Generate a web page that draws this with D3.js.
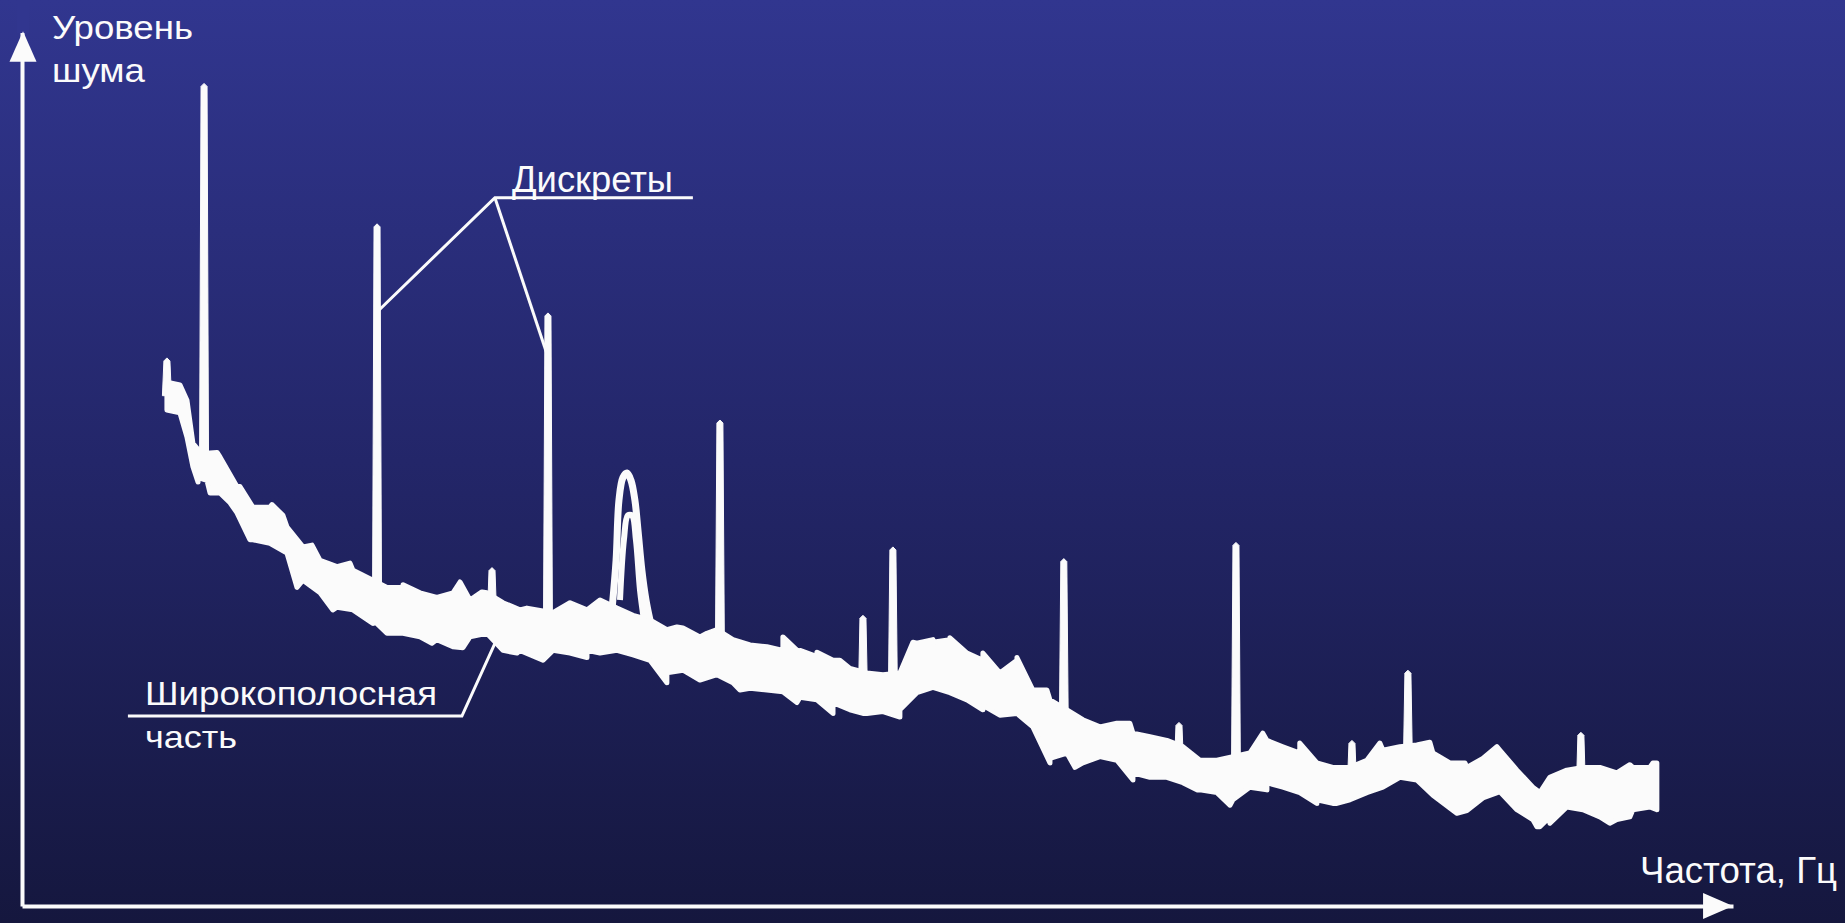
<!DOCTYPE html>
<html><head><meta charset="utf-8">
<script src="https://cdn.jsdelivr.net/npm/d3@7"></script>
<style>html,body{margin:0;padding:0;overflow:hidden;background:#161840}svg{display:block}</style>
</head><body>
<svg id="chart" width="1845" height="923"></svg>
<script>
// ---- data (frequency in arbitrary units 0..1000, level in arbitrary units 0..100) ----
const freq = [84.7,92.3,96.4,99.9,102.9,108.1,115.7,125.6,135.0,144.9,154.9,164.2,174.2,184.1,193.4,205.1,213.3,222.7,232.6,242.5,251.9,261.8,271.7,281.1,291.0,310.3,320.3,330.2,337.8,347.7,357.1,367.0,376.9,386.3,396.2,406.2,415.5,425.5,435.4,444.7,454.7,464.6,474.0,483.9,493.8,503.2,513.1,523.0,532.4,542.3,552.3,561.6,571.5,581.5,590.8,600.8,610.7,620.0,630.0,639.9,649.3,659.2,669.1,678.5,688.4,698.4,707.7,717.6,727.6,736.9,746.8,756.8,766.1,776.1,786.0,795.4,805.3,815.2,824.6,834.5,844.5,853.8,863.8,873.7,883.0,887.1,892.9,902.9,912.3,922.2,932.1,941.5,951.4,955.5];
const upper = [58.2,57.9,56.2,51.4,50.7,50.3,49.9,46.6,44.3,44.3,42.1,39.9,38.4,37.7,37.3,36.2,35.4,35.4,34.8,34.3,34.8,34.0,34.8,33.7,32.9,32.6,33.7,32.9,34.0,33.1,32.3,31.8,30.7,30.9,29.9,30.7,29.6,29.0,28.8,28.4,28.1,27.7,27.3,26.4,25.9,25.7,25.9,29.2,29.6,29.6,28.1,27.3,25.9,27.3,24.0,22.9,21.8,20.7,19.9,20.3,19.2,18.8,18.4,17.7,16.2,16.2,16.6,17.0,18.4,17.7,17.0,15.9,15.4,15.4,16.2,17.3,17.7,17.9,17.0,15.9,15.4,16.4,17.3,15.1,13.2,12.6,14.3,15.1,15.4,15.4,14.8,15.4,15.4,15.9];
const lower = [55.1,54.8,52.1,48.8,47.6,47.3,45.9,43.7,40.7,40.3,39.2,36.2,34.8,33.2,32.9,31.8,30.3,30.3,29.9,29.6,28.8,29.9,30.3,28.4,28.4,28.4,28.1,28.4,28.1,28.4,27.9,27.3,25.9,26.2,25.1,25.7,24.8,24.2,24.0,23.8,23.2,22.9,22.6,21.8,21.4,21.6,21.8,23.7,24.3,23.7,22.9,22.3,21.2,21.4,19.9,16.4,17.0,15.9,16.6,16.2,14.8,14.3,14.3,13.7,12.9,12.6,11.8,13.2,13.7,13.2,12.6,11.8,11.4,11.8,12.6,13.2,14.3,14.0,12.3,10.9,10.6,12.0,12.7,10.7,9.6,8.8,9.9,11.0,10.7,9.9,9.6,10.7,11.0,10.7];

// noise excursions above / below the broadband band
const noiseUpF = [114.0,127.4,146.1,152.5,169.5,191.7,222.7,256.0,268.8,295.1,320.3,330.2,382.8,400.3,444.7,454.7,464.6,478.0,520.7,532.4,542.3,561.6,581.5,599.0,647.5,725.2,746.8,793.6,822.8,843.3,862.0,939.7,953.2];
const noiseUpL = [50.4,46.6,44.6,43.4,40.1,38.1,35.7,36.0,34.9,33.1,33.7,32.9,31.0,30.3,29.9,28.4,28.2,27.3,29.3,29.3,29.8,28.1,27.6,24.0,20.3,19.2,18.1,18.1,18.2,15.9,17.7,15.7,15.9];
const noiseDnF = [102.9,109.9,121.6,133.2,160.7,181.7,205.1,219.2,239.6,257.7,289.3,304.5,330.2,376.9,419.6,452.9,474.0,491.5,513.1,561.6,600.8,615.4,649.3,686.7,706.0,727.6,756.8,768.5,838.6,885.4,893.0,928.0,939.7];
const noiseDnL = [47.1,45.9,44.8,40.7,35.4,32.9,31.4,30.3,29.2,28.7,28.1,27.3,27.6,24.8,24.0,22.6,21.4,21.4,21.0,21.8,15.9,15.4,14.0,12.9,11.2,12.9,11.4,11.4,10.3,8.8,9.2,9.2,9.9];

// discrete components (spikes)
const spikeFreq = [84.7,106.4,207.5,274.7,307.4,407.9,491.5,509.0,608.9,676.2,709.5,777.3,810.0,911.1];
const spikePeak = [60.9,91.4,75.8,37.6,65.9,54.0,32.3,39.9,38.6,20.4,40.4,18.4,26.2,19.3];
const spikeBase = [56.7,49.0,34.0,32.6,30.6,28.2,23.7,23.7,19.4,15.7,14.2,13.7,16.0,13.1];

// resonance hump (two traces)
const humpOuterF = [344.8,347.2,348.9,351.2,353.6,355.9,358.2,360.0,362.3,364.7,367.0];
const humpOuterL = [32.9,38.4,45.1,47.6,48.1,47.3,45.1,41.8,37.3,34.0,31.8];
const humpInnerF = [349.5,351.8,354.1,356.5,358.8,361.2,363.5];
const humpInnerL = [34.0,40.7,43.4,43.4,40.7,35.1,31.8];

// labels
const yTitle = ["Уровень","шума"];
const xTitle = "Частота, Гц";
const discreteLabel = "Дискреты";
const broadbandLabel = ["Широкополосная","часть"];

// ---- drawing ----
const W = 1845, H = 923;
const svg = d3.select("#chart");
const x = d3.scaleLinear().domain([0,1000]).range([22,1733]);
const y = d3.scaleLinear().domain([0,100]).range([906,6]);
const WHITE = "#fbfbfb";
const FONT = "'Liberation Sans', Arial, sans-serif";

const defs = svg.append("defs");
const grad = defs.append("linearGradient").attr("id","bg").attr("x1",0).attr("y1",0).attr("x2",0).attr("y2",1);
grad.append("stop").attr("offset","0%").attr("stop-color","#31368f");
grad.append("stop").attr("offset","50%").attr("stop-color","#232669");
grad.append("stop").attr("offset","100%").attr("stop-color","#15173e");
svg.append("rect").attr("width",W).attr("height",H).attr("fill","url(#bg)");

// broadband noise band: envelope points merged with noise excursions
const topEdge = freq.map((f,i)=>[f, upper[i]])
  .concat(noiseUpF.map((f,i)=>[f, noiseUpL[i]]))
  .sort((a,b)=>a[0]-b[0]);
const botEdge = freq.map((f,i)=>[f, lower[i]])
  .concat(noiseDnF.map((f,i)=>[f, noiseDnL[i]]))
  .sort((a,b)=>b[0]-a[0]);
const outline = d3.line().x(d=>x(d[0])).y(d=>y(d[1]));
svg.append("path")
  .attr("d", outline(topEdge.concat(botEdge)) + "Z")
  .attr("fill", WHITE).attr("stroke", WHITE).attr("stroke-width", 5).attr("stroke-linejoin","round");

// hump
const hLine = d3.line().x(d=>x(d[0])).y(d=>y(d[1])).curve(d3.curveCatmullRom);
svg.append("path").datum(humpOuterF.map((f,i)=>[f,humpOuterL[i]]))
  .attr("d", hLine).attr("fill","none").attr("stroke",WHITE).attr("stroke-width",7);
svg.append("path").datum(humpInnerF.map((f,i)=>[f,humpInnerL[i]]))
  .attr("d", hLine).attr("fill","none").attr("stroke",WHITE).attr("stroke-width",6);

// spikes
const spikes = spikeFreq.map((f,i)=>({f, peak: spikePeak[i], base: spikeBase[i]}));
svg.append("g").selectAll("path").data(spikes).join("path")
  .attr("d", d=>{
    const cx = x(d.f), yt = y(d.peak), yb = y(d.base);
    return `M${cx-4.5},${yb}L${cx-3},${yt+3}L${cx},${yt}L${cx+3},${yt+3}L${cx+4.5},${yb}Z`;
  })
  .attr("fill", WHITE).attr("stroke", WHITE).attr("stroke-width", 1);

// axes
const axX = d3.axisBottom(x).tickValues([]).tickSizeOuter(0);
const axY = d3.axisLeft(y).tickValues([]).tickSizeOuter(0);
const gx = svg.append("g").attr("transform",`translate(0,${y(0)})`).call(axX);
gx.select(".domain").attr("stroke",WHITE).attr("stroke-width",4);
const gy = svg.append("g").attr("transform",`translate(${x(0)},0)`).call(axY);
gy.select(".domain").attr("stroke",WHITE).attr("stroke-width",4);
const x0 = x(0)+1, y0 = y(0);
svg.append("rect").attr("x",x0-6).attr("y",0).attr("width",12).attr("height",y(97.0)).attr("fill","#31368f");
svg.append("path").attr("d",`M${x0},${y(97.2)}L${x0-13.5},${y(93.8)}L${x0+13.5},${y(93.8)}Z`).attr("fill",WHITE);
svg.append("path").attr("d",`M${x(1000)},${y0}L${x(982.5)},${y0-13}L${x(982.5)},${y0+13}Z`).attr("fill",WHITE);

// text helper
function label(t, px, py, size, len){
  svg.append("text").attr("x",px).attr("y",py).attr("font-family",FONT).attr("font-size",size)
    .attr("fill",WHITE).attr("textLength",len).attr("lengthAdjust","spacingAndGlyphs").text(t);
}
label(yTitle[0], 52, 39, 34, 141);
label(yTitle[1], 52, 82, 34, 93);
label(xTitle, 1640, 883, 37, 197);
label(discreteLabel, 512, 192, 36, 161);
label(broadbandLabel[0], 145, 705, 33, 292);
label(broadbandLabel[1], 145, 748, 32, 92);

// leader lines
const lead = d3.line().x(d=>x(d[0])).y(d=>y(d[1]));
const ann = svg.append("g").attr("fill","none").attr("stroke",WHITE).attr("stroke-width",3).attr("stroke-linejoin","miter");
ann.append("path").attr("d", lead([[392.1,78.7],[276.4,78.7],[spikeFreq[2],66.0]]));
ann.append("path").attr("d", lead([[276.4,78.7],[spikeFreq[4],61.0]]));
ann.append("path").attr("d", lead([[61.9,21.1],[257.1,21.1],[279.3,30.4]]));
</script>
</body></html>
